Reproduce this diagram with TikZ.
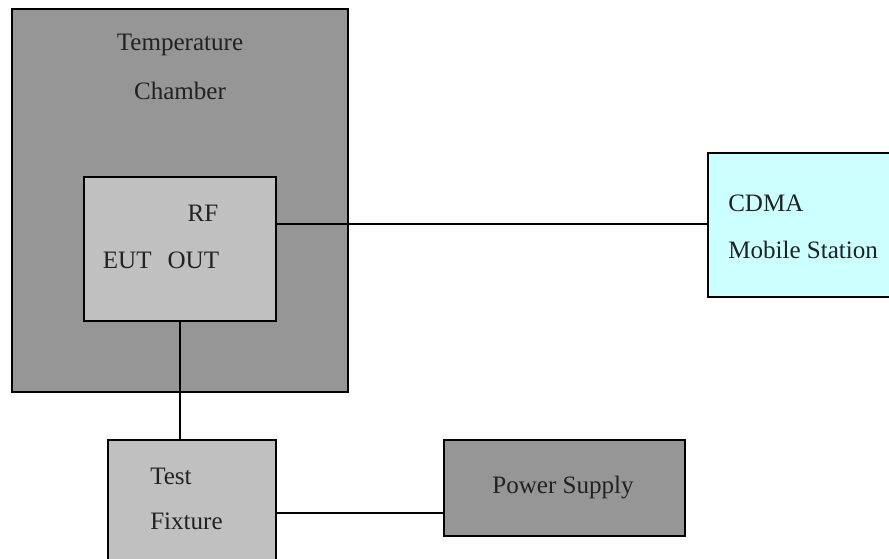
\documentclass[tikz,border=0pt]{standalone}
\usepackage{fontspec}
\setmainfont{Liberation Serif}
\usepackage{tikz}
\usetikzlibrary{positioning}
\definecolor{chgray}{RGB}{150,150,150}
\definecolor{eutgray}{RGB}{192,192,192}
\definecolor{mscyan}{RGB}{204,255,255}
\definecolor{txtgray}{RGB}{34,34,34}

\begin{document}
\begin{tikzpicture}[x=0.75pt, y=-0.75pt,
  box/.style={rectangle, draw=black, line width=1.5pt, inner sep=0pt, anchor=north west},
  lbl/.style={font=\fontsize{18.8}{22}\selectfont, text=txtgray, inner sep=0pt},
  wire/.style={line width=1.5pt, black}]

\useasboundingbox (0,0) rectangle (889,558);
\clip (0,0) rectangle (889,558);

\node[box, fill=chgray, minimum width=252pt, minimum height=287.25pt] (chamber) at (11,8) {};
\node[box, fill=eutgray, minimum width=144pt, minimum height=108pt] (eut) at (83,176) {};
\node[box, fill=mscyan, minimum width=150pt, minimum height=108pt] (cdma) at (707,152) {};
\node[box, fill=eutgray, minimum width=126pt, minimum height=105pt] (fixture) at (107,439) {};
\node[box, fill=chgray, minimum width=180.75pt, minimum height=72pt] (psu) at (443,439) {};

\node[lbl] (t1) at (180,45) {Temperature};
\node[lbl] (t2) at (180,91) {Chamber};
\node[lbl] (t3) at (203,213) {RF};
\node[lbl] (t4) at (161,260) {EUT\hspace{12pt}OUT};
\node[lbl, anchor=west] (t5) at (728,203) {CDMA};
\node[lbl, anchor=west] (t6) at (728,250) {Mobile Station};
\node[lbl, anchor=west] (t7) at (150,476) {Test};
\node[lbl, anchor=west] (t8) at (150,521) {Fixture};
\node[lbl] (t9) at (563,487) {Power Supply};

\coordinate (rf) at ([yshift=-36pt]eut.north east);
\coordinate (dc) at ([yshift=-55.5pt]fixture.north east);
\draw[wire] (rf) -- (rf -| cdma.west);
\draw[wire] (eut.south) -- (eut.south |- fixture.north);
\draw[wire] (dc) -- (dc -| psu.west);
\end{tikzpicture}
\end{document}
